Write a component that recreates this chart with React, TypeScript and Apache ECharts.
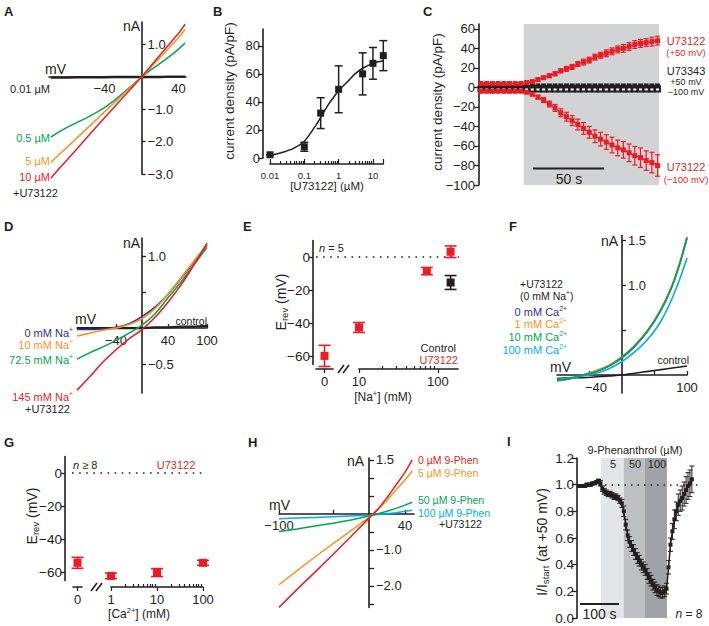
import { useEffect, useRef } from 'react';
import * as echarts from 'echarts';

// ---------------- data ----------------
// Panel A: I-V curves with U73122 concentrations (mV, nA)
const mvA = [-98, -90, -80, -70, -60, -50, -40, -30, -20, -10, 0, 10, 20, 30, 40, 47];
const iA001 = [-0.02, -0.02, -0.02, -0.01, -0.01, -0.01, -0.01, 0, 0, 0, 0, 0, 0, 0.01, 0.01, 0.01];
const iA05 = [-1.86, -1.71, -1.55, -1.41, -1.27, -1.12, -0.95, -0.74, -0.5, -0.25, 0, 0.22, 0.42, 0.63, 0.86, 1.05];
const iA5 = [-2.64, -2.42, -2.16, -1.89, -1.62, -1.35, -1.08, -0.81, -0.54, -0.27, 0, 0.3, 0.6, 0.91, 1.22, 1.47];
const iA10 = [-3.13, -2.86, -2.55, -2.23, -1.9, -1.58, -1.26, -0.95, -0.63, -0.32, 0, 0.34, 0.68, 1.02, 1.35, 1.63];

// Panel B: dose response
const concB = [0.01, 0.1, 0.3, 1, 5, 10, 20];
const densB = [2.3, 8, 32, 49, 60, 67.5, 73];
const errB = [0, 3.2, 11, 16.7, 15, 11.3, 10.7];
const fitX = [0.01, 0.02, 0.05, 0.1, 0.2, 0.3, 0.5, 0.7, 1, 2, 3, 5, 10, 20];
const fitY = [2, 3.5, 7, 12, 22, 29, 38, 43, 48, 55.5, 60, 64, 67.5, 69.3];
const minorB = [0.02, 0.03, 0.04, 0.05, 0.06, 0.07, 0.08, 0.09, 0.2, 0.3, 0.4, 0.5, 0.6, 0.7, 0.8, 0.9, 2, 3, 4, 5, 6, 7, 8, 9];

// Panel C: time course (s, pA/pF)
const tC = [0, 4, 8, 12, 16, 20, 24, 28, 32, 36, 40, 44, 48, 52, 56, 60, 64, 68, 72, 76, 80, 84, 88, 92, 96, 100, 104, 108, 112, 116, 120, 124];
const upC = [4, 4, 4, 4, 4, 4, 4, 4, 5, 6, 8, 10, 12, 14, 17, 19, 21, 24, 26, 28, 31, 33, 35, 37, 39, 40, 42, 44, 45, 46, 47, 48];
const upErrC = [1, 1, 1, 1, 1, 1, 1, 1, 1, 1, 1.5, 1.5, 2, 2, 2, 2.5, 2.5, 2.5, 3, 3, 3, 3, 3.5, 3.5, 3.5, 4, 4, 4, 4, 4, 4.5, 4.5];
const loC = [-4, -4, -4, -4, -4, -4, -4, -4, -5, -7, -10, -13, -17, -21, -26, -30, -34, -38, -42, -46, -50, -53, -56, -59, -62, -64, -67, -70, -72, -75, -77, -80];
const loErrC = [1, 1, 1, 1, 1, 1, 1, 1, 1, 1.5, 2, 2.5, 3, 3.5, 4, 4.5, 5, 5.5, 6, 6, 6.5, 7, 7.5, 8, 8, 8.5, 9, 9.5, 10, 10, 10.5, 11];
const ctl50C = [1.5, 1.5, 1.5, 1.5, 1.5, 1.5, 1.5, 1.5, 1.5, 1.5, 1.5, 1.5, 1.5, 1.5, 1.5, 1.5, 1.5, 1.5, 1.5, 1.5, 1.5, 1.5, 1.5, 1.5, 1.5, 1.5, 1.5, 1.5, 1.5, 1.5, 1.5, 1.5];
const ctl100C = [-1.5, -1.5, -1.5, -1.5, -1.5, -1.5, -1.5, -1.5, -1.5, -1.5, -1.5, -1.5, -1.5, -1.5, -1.5, -1.5, -1.5, -1.5, -1.5, -1.5, -1.5, -1.5, -1.5, -1.5, -1.5, -1.5, -1.5, -1.5, -1.5, -1.5, -1.5, -1.5];
const drugStartC = 30;
const drugEndC = 125;
const scaleC = { t0: 36.5, t1: 86.5, y: -83 };

// Panel D: Na+ substitution I-V
const mvD = [-100, -80, -60, -40, -20, 0, 20, 40, 60, 80, 100];
const na0 = [-0.02, -0.02, -0.01, 0.01, 0.06, 0.16, 0.29, 0.47, 0.69, 0.92, 1.15];
const na10 = [-0.11, -0.07, -0.03, 0.0, 0.05, 0.13, 0.27, 0.47, 0.7, 0.93, 1.16];
const na72 = [-0.43, -0.34, -0.26, -0.17, -0.07, 0.04, 0.2, 0.42, 0.64, 0.88, 1.12];
const na145 = [-0.86, -0.67, -0.47, -0.3, -0.15, -0.02, 0.15, 0.36, 0.6, 0.88, 1.18];
const ctrlD = [0, 0, 0, 0, 0, 0, 0.01, 0.01, 0.02, 0.02, 0.03];

// Panel E: Erev vs Na+
const naE = [10, 72.5, 145];
const erevE = [-42.6, -8.5, 3.2];
const errE = [3, 2.2, 3.5];
const erevE0 = [-59.8];
const errE0 = [6.4];
const ctrlNaE = [145];
const ctrlErevE = [-15.4];
const ctrlErrE = [4.2];
const minorE = [20, 30, 40, 50, 60, 70, 80, 90];

// Panel F: Ca2+ I-V (0 mM Na+)
const mvF = [-100, -80, -60, -40, -20, 0, 20, 40, 60, 80, 100];
const ca0 = [-0.06, -0.04, 0.0, 0.04, 0.1, 0.19, 0.32, 0.49, 0.72, 1.04, 1.52];
const ca1 = [-0.07, -0.04, 0.0, 0.05, 0.11, 0.2, 0.33, 0.5, 0.73, 1.05, 1.53];
const ca10 = [-0.06, -0.04, 0.0, 0.04, 0.1, 0.2, 0.33, 0.5, 0.73, 1.05, 1.53];
const ca100 = [-0.05, -0.03, -0.01, 0.02, 0.07, 0.15, 0.26, 0.4, 0.6, 0.9, 1.3];
const ctrlF = [-0.04, -0.03, -0.03, -0.02, -0.01, 0.0, 0.02, 0.04, 0.06, 0.08, 0.1];

// Panel G: Erev vs Ca2+
const caG = [1, 10, 100];
const erevG = [-62.2, -60.2, -54.3];
const errG = [1.7, 2.4, 1.5];
const erevG0 = [-54.3];
const errG0 = [3.3];
const minorG = [2, 3, 4, 5, 6, 7, 8, 9, 20, 30, 40, 50, 60, 70, 80, 90];

// Panel H: 9-phenanthrol I-V
const mvH = [-100, -80, -60, -40, -20, 0, 10, 20, 30, 40, 48];
const ph0 = [-2.6, -2.1, -1.62, -1.13, -0.63, -0.12, 0.13, 0.45, 0.8, 1.15, 1.5];
const ph5 = [-1.97, -1.58, -1.2, -0.83, -0.47, -0.1, 0.12, 0.38, 0.66, 0.94, 1.19];
const ph50 = [-0.49, -0.42, -0.34, -0.26, -0.17, -0.06, 0.0, 0.07, 0.15, 0.24, 0.32];
const ph100 = [-0.14, -0.12, -0.1, -0.08, -0.06, -0.04, -0.02, 0.0, 0.03, 0.07, 0.1];

// Panel I: normalized current time course
const tI = [0, 5, 10, 15, 20, 25, 30, 35, 40, 45, 50, 55, 60, 65, 70, 75, 80, 85, 90, 95, 100, 105, 110, 115, 120, 125, 130, 135, 140, 145, 150, 155, 160, 165, 170, 175, 180, 185, 190, 195, 200, 205, 210, 215, 220, 225, 230, 235, 240, 245, 250, 255, 260, 265, 270, 275, 280, 285, 290];
const relI = [0.99, 0.99, 0.99, 0.99, 1.0, 1.0, 1.0, 1.01, 1.01, 1.02, 1.03, 1.01, 0.97, 0.95, 0.94, 0.93, 0.93, 0.92, 0.91, 0.91, 0.9, 0.88, 0.86, 0.8, 0.7, 0.62, 0.57, 0.54, 0.51, 0.48, 0.45, 0.43, 0.4, 0.38, 0.36, 0.33, 0.3, 0.28, 0.25, 0.23, 0.21, 0.2, 0.19, 0.19, 0.2, 0.22, 0.38, 0.55, 0.65, 0.74, 0.8, 0.85, 0.88, 0.9, 0.93, 0.96, 0.99, 1.01, 1.04];
const errI = [0.01, 0.01, 0.01, 0.01, 0.01, 0.01, 0.01, 0.01, 0.01, 0.01, 0.01, 0.02, 0.02, 0.02, 0.02, 0.02, 0.02, 0.02, 0.02, 0.02, 0.02, 0.02, 0.03, 0.04, 0.04, 0.04, 0.04, 0.04, 0.04, 0.04, 0.04, 0.04, 0.04, 0.04, 0.04, 0.04, 0.04, 0.04, 0.04, 0.04, 0.04, 0.04, 0.04, 0.04, 0.04, 0.04, 0.05, 0.05, 0.06, 0.07, 0.07, 0.08, 0.08, 0.09, 0.09, 0.1, 0.1, 0.1, 0.1];
const phenPeriods = [
  { label: '5', start: 56, end: 115, color: '#e4e5e6' },
  { label: '50', start: 115, end: 169, color: '#bdbfc1' },
  { label: '100', start: 169, end: 226, color: '#a0a2a5' },
];
const scaleI = { t0: 2.6, t1: 102.6, y: 0.105 };

// ---------------- helpers ----------------
const FONT = '"Liberation Sans", Arial, Helvetica, sans-serif';
const INK = '#231f20';
const RED = '#ed1c24';
const GREEN = '#00a651';
const ORANGE = '#f7941d';
const NAVY = '#2e3192';
const CYAN = '#00aeef';

const zip = (xs: number[], ys: number[]) => xs.map((x, i) => [x, ys[i]]);
const zip3 = (xs: number[], ys: number[], es: number[]) => xs.map((x, i) => [x, ys[i], es[i]]);
const mfmt = (s: string) => s.replace('-', '\u2212');
const f1 = (v: number) => mfmt(Number(v).toFixed(1));
const f0 = (v: number) => mfmt(String(Math.round(Number(v))));
const fPow = (v: number) => String(parseFloat(Math.pow(10, Number(v)).toPrecision(3)));

type Box = { left: number; top: number; width: number; height: number };
// offsets that put crossing axes through the origin (x = 0, y = 0)
const yAtZeroOffset = (b: Box, xmin: number, xmax: number) => -((0 - xmin) / (xmax - xmin)) * b.width;
const xAtZeroOffset = (b: Box, ymin: number, ymax: number) => -((0 - ymin) / (ymax - ymin)) * b.height;

function buildOption() {
  const grids: any[] = [];
  const xAxes: any[] = [];
  const yAxes: any[] = [];
  const series: any[] = [];

  const grid = (b: Box) => {
    grids.push({ ...b, containLabel: false });
    return grids.length - 1;
  };
  const vAxis = (o: any) => ({
    type: 'value',
    gridIndex: o.g,
    min: o.min,
    max: o.max,
    show: o.show !== false,
    position: o.pos,
    offset: o.offset || 0,
    axisLine: { show: o.line !== false, onZero: false, lineStyle: { color: INK, width: o.lw || 1.6 } },
    axisTick: o.ticks
      ? { show: true, customValues: o.ticks, inside: !!o.tickIn, length: o.tickLen || 4, lineStyle: { color: INK, width: 1.3 } }
      : { show: false },
    axisLabel: o.labels
      ? {
          show: true,
          customValues: o.labels,
          inside: !!o.labIn,
          margin: o.margin ?? 4,
          formatter: o.fmt || f0,
          color: INK,
          fontSize: o.fs || 13,
          fontFamily: FONT,
        }
      : { show: false },
    splitLine: { show: false },
  });
  const addX = (a: any) => { xAxes.push(a); return xAxes.length - 1; };
  const addY = (a: any) => { yAxes.push(a); return yAxes.length - 1; };
  const logData = (g: number, lo: number, hi: number, offset: number) =>
    addX({
      type: 'log', logBase: 10, gridIndex: g, min: lo, max: hi, position: 'bottom', offset,
      axisLine: { show: true, onZero: false, lineStyle: { color: INK, width: 1.6 } },
      axisTick: { show: false }, axisLabel: { show: false }, splitLine: { show: false }, minorTick: { show: false },
    });
  const logTicks = (g: number, lo: number, hi: number, ticks: number[], o: any) =>
    addX({
      type: 'value', gridIndex: g, min: Math.log10(lo), max: Math.log10(hi), position: 'bottom', offset: o.offset,
      axisLine: { show: false, onZero: false },
      axisTick: { show: true, customValues: ticks.map((t) => Math.log10(t)), inside: !!o.inside, length: o.len, lineStyle: { color: INK, width: 1.2 } },
      axisLabel: o.labels
        ? { show: true, customValues: o.labels.map((t: number) => Math.log10(t)), formatter: fPow, margin: o.margin, fontSize: o.fs, color: INK, fontFamily: FONT }
        : { show: false },
      splitLine: { show: false },
    });

  const lineS = (xi: number, yi: number, data: any[], color: string, width: number, extra: any = {}) => ({
    type: 'line', xAxisIndex: xi, yAxisIndex: yi, data, symbol: 'none', clip: false, silent: true,
    lineStyle: { color, width }, itemStyle: { color }, z: 3, ...extra,
  });
  const dotS = (xi: number, yi: number, data: any[], color: string, symbol: string, size: number) => ({
    type: 'scatter', xAxisIndex: xi, yAxisIndex: yi, data, symbol, symbolSize: size,
    itemStyle: { color, opacity: 1 }, silent: true, clip: false, z: 6,
  });
  const errS = (xi: number, yi: number, data: any[], color: string, cap: number, lw: number) => ({
    type: 'custom', xAxisIndex: xi, yAxisIndex: yi, data, silent: true, z: 5, clip: false,
    encode: { x: 0, y: 1 },
    renderItem: (_p: any, api: any) => {
      const x = api.value(0), y = api.value(1), e = api.value(2);
      const a = api.coord([x, y + e]);
      const b = api.coord([x, y - e]);
      const st = { stroke: color, lineWidth: lw };
      return {
        type: 'group',
        children: [
          { type: 'line', shape: { x1: a[0], y1: a[1], x2: b[0], y2: b[1] }, style: st },
          { type: 'line', shape: { x1: a[0] - cap, y1: a[1], x2: a[0] + cap, y2: a[1] }, style: st },
          { type: 'line', shape: { x1: b[0] - cap, y1: b[1], x2: b[0] + cap, y2: b[1] }, style: st },
        ],
      };
    },
  });

  // ---- A ----
  const bA: Box = { left: 49, top: 22, width: 137, height: 152 };
  const gA = grid(bA);
  const xA = addX(vAxis({ g: gA, min: -100, max: 48, pos: 'bottom', offset: xAtZeroOffset(bA, -3, 1.7), labels: [-40, 40], margin: 5, fs: 13 }));
  const yA = addY(vAxis({ g: gA, min: -3, max: 1.7, pos: 'left', offset: yAtZeroOffset(bA, -100, 48), ticks: [1, -1, -2, -3], tickIn: true, tickLen: 4, labels: [1, -1, -2, -3], labIn: true, margin: 6, fmt: f1, fs: 13 }));
  series.push(lineS(xA, yA, zip(mvA, iA001), INK, 2.4));
  series.push(lineS(xA, yA, zip(mvA, iA05), GREEN, 1.5));
  series.push(lineS(xA, yA, zip(mvA, iA5), ORANGE, 1.5));
  series.push(lineS(xA, yA, zip(mvA, iA10), RED, 1.5));

  // ---- B ----
  const gB = grid({ left: 270, top: 29, width: 113.3, height: 129 });
  const xB = logData(gB, 0.01, 20, 6);
  logTicks(gB, 0.01, 20, [0.01, 0.1, 1, 10, 20], { offset: 6, inside: true, len: 5, labels: [0.01, 0.1, 1, 10], margin: 6, fs: 9.5 });
  logTicks(gB, 0.01, 20, minorB, { offset: 6, inside: true, len: 3 });
  const yB = addY(vAxis({ g: gB, min: 0, max: 92, offset: 7, ticks: [0, 20, 40, 60, 80], tickLen: 5, labels: [0, 20, 40, 60, 80], margin: 3, fs: 13 }));
  series.push(lineS(xB, yB, zip(fitX, fitY), INK, 1.5, { smooth: 0.3 }));
  series.push(errS(xB, yB, zip3(concB, densB, errB), INK, 4, 1.5));
  series.push(dotS(xB, yB, zip(concB, densB), INK, 'rect', 7));

  // ---- C ----
  const gC = grid({ left: 481, top: 24, width: 178, height: 161 });
  const xC = addX(vAxis({ g: gC, min: 0, max: 125, show: false }));
  const yC = addY(vAxis({ g: gC, min: -100, max: 65, offset: 2, ticks: [-100, -80, -60, -40, -20, 0, 20, 40, 60], tickLen: 5, labels: [-100, -80, -60, -40, -20, 0, 20, 40, 60], margin: 4, fs: 13 }));
  series.push(lineS(xC, yC, zip(tC, ctl50C), INK, 0, {
    z: 1, lineStyle: { opacity: 0 },
    markArea: { silent: true, itemStyle: { color: '#d1d3d4' }, data: [[{ xAxis: drugStartC }, { xAxis: drugEndC }]] },
  }));
  series.push(lineS(xC, yC, zip(tC, ctl100C), INK, 1, { symbol: 'emptyRect', symbolSize: 5, showSymbol: true, itemStyle: { color: INK, borderWidth: 1 } }));
  series.push(lineS(xC, yC, zip(tC, ctl50C), INK, 1, { symbol: 'rect', symbolSize: 5, showSymbol: true }));
  series.push(errS(xC, yC, zip3(tC, upC, upErrC), RED, 2.5, 1.2));
  series.push(lineS(xC, yC, zip(tC, upC), RED, 1.2, { symbol: 'rect', symbolSize: 5, showSymbol: true, z: 6 }));
  series.push(errS(xC, yC, zip3(tC, loC, loErrC), RED, 2.5, 1.2));
  series.push(lineS(xC, yC, zip(tC, loC), RED, 1.2, { symbol: 'rect', symbolSize: 5, showSymbol: true, z: 6 }));
  series.push(lineS(xC, yC, [[scaleC.t0, scaleC.y], [scaleC.t1, scaleC.y]], INK, 2));

  // ---- D ----
  const bD: Box = { left: 77, top: 238, width: 130, height: 155 };
  const gD = grid(bD);
  const xD = addX(vAxis({ g: gD, min: -100, max: 100, pos: 'bottom', offset: xAtZeroOffset(bD, -0.9, 1.25), ticks: [-40, 40, 100], tickIn: true, tickLen: 4, labels: [-40, 40, 100], margin: 6, fs: 13 }));
  const yD = addY(vAxis({ g: gD, min: -0.9, max: 1.25, pos: 'left', offset: yAtZeroOffset(bD, -100, 100), ticks: [1, 0.5, -0.5], tickIn: true, tickLen: 4, labels: [1, -0.5], labIn: true, margin: 6, fmt: f1, fs: 13 }));
  series.push(lineS(xD, yD, zip(mvD, ctrlD), INK, 2.2));
  series.push(lineS(xD, yD, zip(mvD, na0), NAVY, 1.6, { smooth: 0.4 }));
  series.push(lineS(xD, yD, zip(mvD, na10), ORANGE, 1.6, { smooth: 0.4 }));
  series.push(lineS(xD, yD, zip(mvD, na72), GREEN, 1.6, { smooth: 0.4 }));
  series.push(lineS(xD, yD, zip(mvD, na145), RED, 1.6, { smooth: 0.4 }));

  // ---- E ----
  const gE0 = grid({ left: 316, top: 240.5, width: 17, height: 124 });
  const xE0 = addX(vAxis({ g: gE0, min: -1, max: 1, pos: 'bottom', offset: 4.5, ticks: [0], tickLen: 4, labels: [0], margin: 6, fs: 13 }));
  const yE0 = addY(vAxis({ g: gE0, min: -65, max: 10, offset: 3, ticks: [-60, -40, -20, 0], tickLen: 4, labels: [-60, -40, -20, 0], margin: 3, fs: 13.5 }));
  const gEl = grid({ left: 359, top: 240.5, width: 99, height: 124 });
  const xEl = logData(gEl, 10, 180, 4.5);
  logTicks(gEl, 10, 180, [10, 100], { offset: 4.5, inside: false, len: 4, labels: [10, 100], margin: 6, fs: 13 });
  logTicks(gEl, 10, 180, minorE, { offset: 4.5, inside: true, len: 3 });
  const yEl = addY(vAxis({ g: gEl, min: -65, max: 10, show: false }));
  const gEo = grid({ left: 316, top: 240.5, width: 143, height: 124 });
  const xEo = addX(vAxis({ g: gEo, min: 0, max: 1, show: false }));
  const yEo = addY(vAxis({ g: gEo, min: -65, max: 10, show: false }));
  series.push({
    type: 'line', xAxisIndex: xEo, yAxisIndex: yEo, data: [], silent: true,
    markLine: { silent: true, symbol: 'none', label: { show: false }, lineStyle: { color: INK, width: 1.6, type: [1.6, 5.5] }, data: [{ yAxis: 0 }] },
  });
  series.push(errS(xE0, yE0, zip3([0], erevE0, errE0), RED, 6, 1.6));
  series.push(dotS(xE0, yE0, zip([0], erevE0), RED, 'rect', 8));
  series.push(errS(xEl, yEl, zip3(naE, erevE, errE), RED, 6, 1.6));
  series.push(dotS(xEl, yEl, zip(naE, erevE), RED, 'rect', 8));
  series.push(errS(xEl, yEl, zip3(ctrlNaE, ctrlErevE, ctrlErrE), INK, 6, 1.6));
  series.push(dotS(xEl, yEl, zip(ctrlNaE, ctrlErevE), INK, 'rect', 8));

  // ---- F ----
  const bF: Box = { left: 557, top: 235.5, width: 130, height: 157.5 };
  const gF = grid(bF);
  const xF = addX(vAxis({ g: gF, min: -100, max: 100, pos: 'bottom', offset: xAtZeroOffset(bF, -0.2, 1.55), ticks: [-50, 50, 100], tickIn: true, tickLen: 4, labels: [-40, 100], margin: 6, fs: 13 }));
  const yF = addY(vAxis({ g: gF, min: -0.2, max: 1.55, pos: 'left', offset: yAtZeroOffset(bF, -100, 100), ticks: [1.5, 1, 0.5], tickIn: true, tickLen: 4, labels: [1.5, 1], labIn: true, margin: 6, fmt: f1, fs: 13 }));
  series.push(lineS(xF, yF, zip(mvF, ctrlF), INK, 1.6, { smooth: 0.4 }));
  series.push(lineS(xF, yF, zip(mvF, ca0), NAVY, 1.6, { smooth: 0.4 }));
  series.push(lineS(xF, yF, zip(mvF, ca1), ORANGE, 1.6, { smooth: 0.4 }));
  series.push(lineS(xF, yF, zip(mvF, ca100), CYAN, 1.6, { smooth: 0.4 }));
  series.push(lineS(xF, yF, zip(mvF, ca10), GREEN, 1.6, { smooth: 0.4 }));

  // ---- G ----
  const gG0 = grid({ left: 73, top: 456.5, width: 9, height: 124 });
  const xG0 = addX(vAxis({ g: gG0, min: -1, max: 1, pos: 'bottom', offset: 6.5, ticks: [0], tickLen: 4, labels: [0], margin: 6, fs: 13 }));
  const yG0 = addY(vAxis({ g: gG0, min: -65, max: 10, offset: 8, ticks: [-60, -40, -20, 0], tickLen: 4, labels: [-60, -40, -20, 0], margin: 3, fs: 13.5 }));
  const gGl = grid({ left: 111, top: 456.5, width: 92, height: 124 });
  const xGl = logData(gGl, 1, 100, 6.5);
  logTicks(gGl, 1, 100, [1, 10, 100], { offset: 6.5, inside: false, len: 4, labels: [1, 10, 100], margin: 6, fs: 13 });
  logTicks(gGl, 1, 100, minorG, { offset: 6.5, inside: true, len: 3 });
  const yGl = addY(vAxis({ g: gGl, min: -65, max: 10, show: false }));
  const gGo = grid({ left: 72, top: 456.5, width: 134, height: 124 });
  const xGo = addX(vAxis({ g: gGo, min: 0, max: 1, show: false }));
  const yGo = addY(vAxis({ g: gGo, min: -65, max: 10, show: false }));
  series.push({
    type: 'line', xAxisIndex: xGo, yAxisIndex: yGo, data: [], silent: true,
    markLine: { silent: true, symbol: 'none', label: { show: false }, lineStyle: { color: INK, width: 1.6, type: [1.6, 5.5] }, data: [{ yAxis: 0 }] },
  });
  series.push(errS(xG0, yG0, zip3([0], erevG0, errG0), RED, 6, 1.6));
  series.push(dotS(xG0, yG0, zip([0], erevG0), RED, 'rect', 8));
  series.push(errS(xGl, yGl, zip3(caG, erevG, errG), RED, 6, 1.6));
  series.push(dotS(xGl, yGl, zip(caG, erevG), RED, 'rect', 8));

  // ---- H ----
  const bH: Box = { left: 279, top: 458, width: 135, height: 149.4 };
  const gH = grid(bH);
  const xH = addX(vAxis({ g: gH, min: -100, max: 50, pos: 'bottom', offset: xAtZeroOffset(bH, -2.6, 1.55), ticks: [-100, -40, 40], tickIn: true, tickLen: 4, labels: [-100, 40], margin: 5, fs: 13 }));
  const yH = addY(vAxis({ g: gH, min: -2.6, max: 1.55, pos: 'left', offset: yAtZeroOffset(bH, -100, 50), ticks: [1.5, 1, 0.5, -0.5, -1, -1.5, -2, -2.5], tickIn: true, tickLen: 5, labels: [1.5, -1, -2], labIn: true, margin: 7, fmt: f1, fs: 13 }));
  series.push(lineS(xH, yH, zip(mvH, ph100), CYAN, 1.5));
  series.push(lineS(xH, yH, zip(mvH, ph50), GREEN, 1.5));
  series.push(lineS(xH, yH, zip(mvH, ph5), ORANGE, 1.5));
  series.push(lineS(xH, yH, zip(mvH, ph0), RED, 1.5));

  // ---- I ----
  const gI = grid({ left: 579, top: 458, width: 123, height: 160 });
  const xI = addX(vAxis({ g: gI, min: 0, max: 316, show: false }));
  const yI = addY(vAxis({ g: gI, min: 0, max: 1.2, offset: 2, ticks: [0, 0.2, 0.4, 0.6, 0.8, 1, 1.2], tickLen: 5, labels: [0, 0.2, 0.4, 0.6, 0.8, 1, 1.2], margin: 3, fmt: f1, fs: 13.5 }));
  series.push({
    type: 'line', xAxisIndex: xI, yAxisIndex: yI, data: [], silent: true, z: 1,
    markArea: {
      silent: true,
      data: phenPeriods.map((p) => [{ xAxis: p.start, itemStyle: { color: p.color } }, { xAxis: p.end }]),
    },
    markLine: { silent: true, symbol: 'none', label: { show: false }, lineStyle: { color: INK, width: 1.5, type: [1.5, 5] }, data: [{ yAxis: 1 }] },
  });
  series.push(errS(xI, yI, zip3(tI, relI, errI), INK, 2.5, 1));
  series.push(lineS(xI, yI, zip(tI, relI), INK, 1.5, { symbol: 'rect', symbolSize: 4, showSymbol: true, z: 6 }));
  series.push(lineS(xI, yI, [[scaleI.t0, scaleI.y], [scaleI.t1, scaleI.y]], INK, 2));

  // ---- texts ----
  const txt = (x: number, y: number, text: string, o: any = {}) => {
    const size = o.size || 11;
    const color = o.color || INK;
    const base = { fontFamily: FONT, fill: color };
    return {
      type: 'text', x, y, rotation: o.rot || 0, silent: true, z: 100,
      style: {
        text, fill: color, fontSize: size, fontFamily: FONT,
        fontWeight: o.bold ? 'bold' : 'normal',
        align: o.align || 'left', verticalAlign: 'middle',
        rich: {
          n: { ...base, fontSize: size, lineHeight: size * 1.25 },
          i: { ...base, fontSize: size, fontStyle: 'italic', lineHeight: size * 1.25 },
          sup: { ...base, fontSize: size * 0.62, verticalAlign: 'top', lineHeight: size * 0.62 },
          sub: { ...base, fontSize: size * 0.68, verticalAlign: 'bottom', lineHeight: size * 0.68 },
        },
      },
    };
  };
  const R90 = Math.PI / 2;
  const graphics: any[] = [
    // panel letters
    txt(4, 11, 'A', { bold: true, size: 13 }),
    txt(213, 11, 'B', { bold: true, size: 13 }),
    txt(423, 11, 'C', { bold: true, size: 13 }),
    txt(4, 226, 'D', { bold: true, size: 13 }),
    txt(243, 226, 'E', { bold: true, size: 13 }),
    txt(509, 226, 'F', { bold: true, size: 13 }),
    txt(4, 442, 'G', { bold: true, size: 13 }),
    txt(248, 442, 'H', { bold: true, size: 13 }),
    txt(507, 441, 'I', { bold: true, size: 13 }),
    // A
    txt(140, 26, 'nA', { size: 14, align: 'right' }),
    txt(45, 69, 'mV', { size: 14 }),
    txt(50, 89, '0.01 µM', { align: 'right' }),
    txt(50, 137.5, '0.5 µM', { align: 'right', color: GREEN }),
    txt(50, 161, '5 µM', { align: 'right', color: ORANGE }),
    txt(50, 177, '10 µM', { align: 'right', color: RED }),
    txt(13, 192.5, '+U73122'),
    // B
    txt(229, 91, 'current density (pA/pF)', { size: 13.5, align: 'center', rot: R90 }),
    txt(327, 186, '[U73122] (µM)', { size: 11.5, align: 'center' }),
    // C
    txt(437, 102, 'current density (pA/pF)', { size: 13.5, align: 'center', rot: R90 }),
    txt(686, 41, 'U73122', { color: RED, align: 'center' }),
    txt(686, 52.5, '(+50 mV)', { color: RED, align: 'center', size: 9.5 }),
    txt(686, 71, 'U73343', { align: 'center' }),
    txt(686, 81.5, '+50 mV', { align: 'center', size: 9 }),
    txt(686, 92, '\u2212100 mV', { align: 'center', size: 9 }),
    txt(686, 167, 'U73122', { color: RED, align: 'center' }),
    txt(686, 179, '(\u2212100 mV)', { color: RED, align: 'center', size: 9.5 }),
    txt(569, 179, '50 s', { size: 14, align: 'center' }),
    // D
    txt(140, 243, 'nA', { size: 14, align: 'right' }),
    txt(75, 319, 'mV', { size: 14 }),
    txt(207, 320.5, 'control', { size: 10.5, align: 'right' }),
    txt(73, 332.5, '{n|0 mM Na}{sup|+}', { align: 'right', color: NAVY }),
    txt(73, 345, '{n|10 mM Na}{sup|+}', { align: 'right', color: ORANGE }),
    txt(73, 360, '{n|72.5 mM Na}{sup|+}', { align: 'right', color: GREEN }),
    txt(73, 397, '{n|145 mM Na}{sup|+}', { align: 'right', color: RED }),
    txt(25, 409, '+U73122'),
    // E
    txt(319, 248, '{i|n}{n| = 5}'),
    txt(456, 348, 'Control', { align: 'right' }),
    txt(458, 360, 'U73122', { align: 'right', color: RED }),
    txt(281, 302, '{n|E}{sub|rev}{n| (mV)}', { size: 14, align: 'center', rot: R90 }),
    txt(383, 397, '{n|[Na}{sup|+}{n|] (mM)}', { size: 12, align: 'center' }),
    // F
    txt(618, 241, 'nA', { size: 14, align: 'right' }),
    txt(520, 284, '+U73122', { size: 10.5 }),
    txt(520, 295.5, '{n|(0 mM Na}{sup|+}{n|)}', { size: 10.5 }),
    txt(567, 312, '{n|0 mM Ca}{sup|2+}', { align: 'right', color: NAVY }),
    txt(567, 324, '{n|1 mM Ca}{sup|2+}', { align: 'right', color: ORANGE }),
    txt(567, 337, '{n|10 mM Ca}{sup|2+}', { align: 'right', color: GREEN }),
    txt(567, 350, '{n|100 mM Ca}{sup|2+}', { align: 'right', color: CYAN }),
    txt(550, 367, 'mV', { size: 14 }),
    txt(689, 360, 'control', { size: 10.5, align: 'right' }),
    // G
    txt(73, 465, '{i|n}{n| \u2265 8}'),
    txt(176, 465, 'U73122', { align: 'center', color: RED }),
    txt(32, 516, '{n|E}{sub|rev}{n| (mV)}', { size: 14, align: 'center', rot: R90 }),
    txt(139, 614, '{n|[Ca}{sup|2+}{n|] (mM)}', { size: 12, align: 'center' }),
    // H
    txt(364, 461, 'nA', { size: 14, align: 'right' }),
    txt(269, 505, 'mV', { size: 14 }),
    txt(418, 459.5, '0 µM 9-Phen', { size: 10.5, color: RED }),
    txt(418, 472.5, '5 µM 9-Phen', { size: 10.5, color: ORANGE }),
    txt(418, 500, '50 µM 9-Phen', { size: 10.5, color: GREEN }),
    txt(418, 512.5, '100 µM 9-Phen', { size: 10.5, color: CYAN }),
    txt(439, 523.5, '+U73122', { size: 10.5 }),
    // I
    txt(635, 450, '9-Phenanthrol (µM)', { align: 'center' }),
    ...phenPeriods.map((p, k) => txt([613, 635, 657][k], 464, p.label, { align: 'center' })),
    txt(542, 542, '{n|I/I}{sub|start}{n| (at +50 mV)}', { size: 14, align: 'center', rot: R90 }),
    txt(599.5, 614, '100 s', { size: 14, align: 'center' }),
    txt(689, 614, '{i|n}{n| = 8}', { size: 12, align: 'center' }),
    // axis break marks
    { type: 'line', silent: true, shape: { x1: 338, y1: 373, x2: 344, y2: 365 }, style: { stroke: INK, lineWidth: 1.6 } },
    { type: 'line', silent: true, shape: { x1: 343, y1: 373, x2: 349, y2: 365 }, style: { stroke: INK, lineWidth: 1.6 } },
    { type: 'line', silent: true, shape: { x1: 91, y1: 591, x2: 97, y2: 583 }, style: { stroke: INK, lineWidth: 1.6 } },
    { type: 'line', silent: true, shape: { x1: 96, y1: 591, x2: 102, y2: 583 }, style: { stroke: INK, lineWidth: 1.6 } },
  ];

  return {
    animation: false,
    backgroundColor: '#ffffff',
    textStyle: { fontFamily: FONT },
    grid: grids,
    xAxis: xAxes,
    yAxis: yAxes,
    series,
    graphic: graphics,
  };
}

export default function App() {
  const ref = useRef<HTMLDivElement>(null);
  useEffect(() => {
    const chart = echarts.init(ref.current!, null, { renderer: 'svg' });
    chart.setOption(buildOption() as any);
    return () => chart.dispose();
  }, []);
  return (
    <div
      ref={ref}
      style={{ position: 'absolute', left: 0, top: 0, width: 709, height: 626, background: '#fff' }}
    />
  );
}
